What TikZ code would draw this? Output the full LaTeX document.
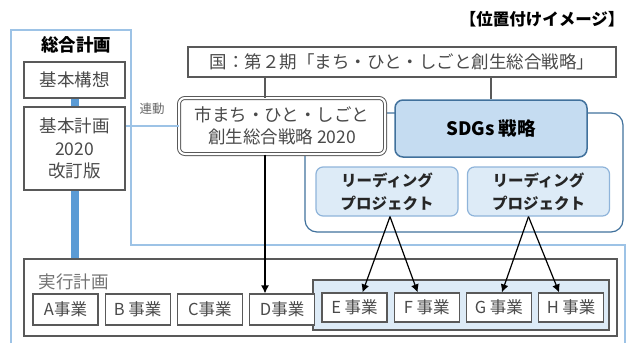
\documentclass[tikz,border=0pt]{standalone}
\usepackage{fontspec}
\setmainfont{Noto Sans CJK JP}
\usetikzlibrary{positioning,arrows.meta}

\definecolor{frameblue}{HTML}{9DC3E6}
\definecolor{barblue}{HTML}{5B9BD5}
\definecolor{sdgfill}{HTML}{C5DCF1}
\definecolor{sdgline}{HTML}{41719C}
\definecolor{lpfill}{HTML}{DDEBF7}
\definecolor{lpline}{HTML}{8FB4DA}
\definecolor{boxline}{HTML}{595959}
\definecolor{txtgray}{HTML}{4A4A4A}

\tikzset{
  plainbox/.style={draw=boxline, line width=1.2pt, fill=white, inner sep=0pt,
    text=txtgray, align=center, font=\fontsize{17.5}{22.5}\selectfont},
  jigyo/.style={plainbox, minimum width=65pt, minimum height=31pt,
    font=\fontsize{16.5}{20}\selectfont},
  leadbox/.style={draw=lpline, line width=1.2pt, fill=lpfill, rounded corners=7pt,
    minimum width=142pt, minimum height=49pt, align=center, text=black!85,
    font=\fontsize{15.5}{23}\selectfont\bfseries},
  link/.style={-{Latex[length=8pt,width=8pt]}, line width=1.2pt, black}
}

\begin{document}
\begin{tikzpicture}[x=1pt,y=-1pt]
  \useasboundingbox (0,0) rectangle (631,343);

  % outer frame of the general plan
  \draw[frameblue, line width=1.2pt] (11,343)--(11,30)--(131,30)--(131,245)--(625,245)--(625,343);
  \node[font=\fontsize{17.5}{20}\selectfont\bfseries] (sogo) at (76,45) {総合計画};
  \node[anchor=east, font=\fontsize{16.5}{18}\selectfont\bfseries] (title) at (628,19) {【位置付けイメージ】};

  % SDGs frame, drawn first so the boxes sit on it
  \draw[sdgline, line width=1.2pt, rounded corners=12pt] (305,113) rectangle (623,232);

  \node[plainbox, minimum width=101pt, minimum height=36pt] (koso) at (74.5,80) {基本構想};
  \node[plainbox, minimum width=101pt, minimum height=83pt] (keikaku) at (74.5,148.5) {基本計画\\2020\\改訂版};

  \node[plainbox, minimum width=428pt, minimum height=30pt] (kuni) at (402,62)
    {国：第２期「まち・ひと・しごと創生総合戦略」};
  \node[plainbox, double, double distance=2pt, line width=1pt, rounded corners=6pt,
    minimum width=206pt, minimum height=56pt] (city) at (282,126)
    {市まち・ひと・しごと\\創生総合戦略 2020};
  \node[draw=sdgline, line width=1.5pt, fill=sdgfill, rounded corners=8pt,
    minimum width=192pt, minimum height=57pt,
    font=\fontsize{18.5}{22}\selectfont\bfseries] (sdgs) at (491,128.5) {SDGs 戦略};
  \node[leadbox] (leadA) at (387,191.5) {リーディング\\プロジェクト};
  \node[leadbox] (leadB) at (538.5,191.5) {リーディング\\プロジェクト};

  % action plan
  \node[draw=boxline, line width=1.2pt, fill=white, minimum width=593pt,
    minimum height=77pt] (jikko) at (320.5,297.5) {};
  \node[anchor=west, text=black!55, font=\fontsize{17.5}{20}\selectfont] (jikkolbl) at (35,282) {実行計画};
  \node[draw=boxline, line width=1.2pt, fill=lpfill, minimum width=296pt,
    minimum height=50pt] (group) at (461,305) {};
  \node[jigyo] (jA) at (65.5,309.5) {A事業};
  \node[jigyo, right=6pt of jA] (jB) {B 事業};
  \node[jigyo, right=6pt of jB] (jC) {C事業};
  \node[jigyo, right=6pt of jC] (jD) {D事業};
  \node[jigyo, minimum height=29pt] (jE) at (354.5,307.5) {E 事業};
  \node[jigyo, minimum height=29pt, right=6pt of jE] (jF) {F 事業};
  \node[jigyo, minimum height=29pt, right=6pt of jF] (jG) {G 事業};
  \node[jigyo, minimum height=29pt, right=6pt of jG] (jH) {H 事業};

  % thick bar of the general plan
  \draw[barblue, line width=8pt] (koso.south) -- (keikaku.north);
  \draw[barblue, line width=8pt] (keikaku.south) -- (keikaku.south |- jikko.north);

  % connections
  \coordinate (cx) at (265,0);
  \draw[frameblue, line width=1.2pt] (city.west) -- (city.west -| keikaku.east)
    node[midway, above=8pt, text=black!60, font=\fontsize{12.5}{14}\selectfont] (rendo) {連動};
  \draw[boxline, line width=1.2pt] (kuni.south -| cx) -- (city.north -| cx);
  \draw[boxline, line width=1.2pt] (kuni.south -| sdgs.north) -- (sdgs.north);
  \draw[link] (city.south -| cx) -- (jD.north -| cx);
  \draw[link] ([xshift=3pt]leadA.south) -- ([xshift=8pt]jE.north);
  \draw[link] ([xshift=3pt]leadA.south) -- ([xshift=-9pt]jF.north);
  \draw[link] ([xshift=-10pt]leadB.south) -- ([xshift=3pt]jG.north);
  \draw[link] ([xshift=-10pt]leadB.south) -- ([xshift=-12pt]jH.north);
\end{tikzpicture}
\end{document}
